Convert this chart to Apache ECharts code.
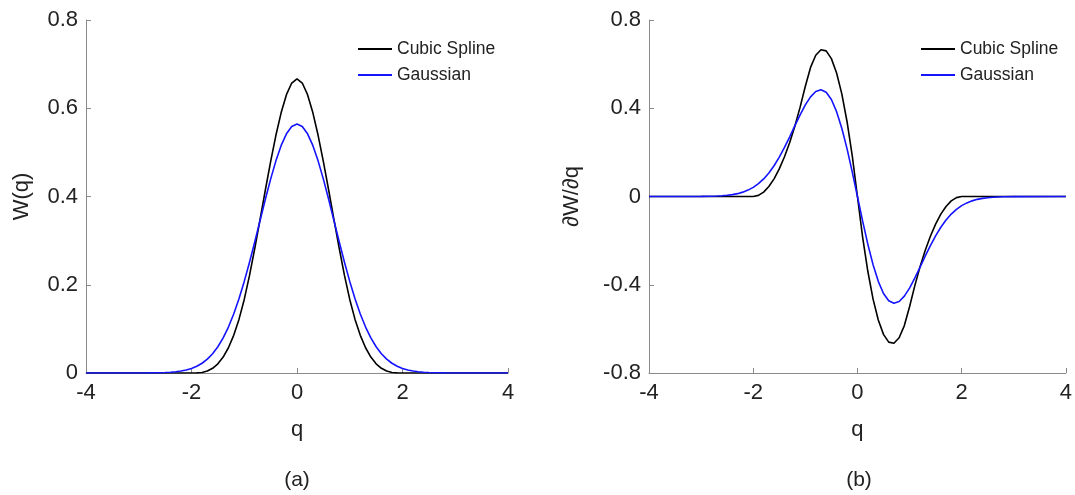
<!DOCTYPE html>
<html>
<head>
<meta charset="utf-8">
<script src="https://cdn.jsdelivr.net/npm/echarts@6/dist/echarts.min.js"></script>
<style>
html,body{margin:0;padding:0;background:#fff;}
#c{width:1075px;height:495px;}
</style>
</head>
<body>
<div id="c"></div>
<script>
// q sample points
var q = [-4,-3,-2.8,-2.7,-2.6,-2.5,-2.4,-2.3,-2.2,-2.1,-2.0,-1.9,-1.8,-1.7,-1.6,-1.5,-1.4,-1.3,-1.2,-1.1,-1.0,-0.9,-0.8,-0.7,-0.6,-0.5,-0.4,-0.3,-0.2,-0.1,0,
         0.1,0.2,0.3,0.4,0.5,0.6,0.7,0.8,0.9,1.0,1.1,1.2,1.3,1.4,1.5,1.6,1.7,1.8,1.9,2.0,2.1,2.2,2.3,2.4,2.5,2.6,2.7,2.8,3,4];

// W(q), cubic spline
var wCubic = [0,0,0,0,0,0,0,0,0,0,0,0.0002,0.0013,0.0045,0.0107,0.0208,0.036,0.0572,0.0853,0.1215,0.1667,0.2212,0.2827,0.3482,0.4147,0.4792,0.5387,0.5902,0.6307,0.6572,0.6667,
              0.6572,0.6307,0.5902,0.5387,0.4792,0.4147,0.3482,0.2827,0.2212,0.1667,0.1215,0.0853,0.0572,0.036,0.0208,0.0107,0.0045,0.0013,0.0002,0,0,0,0,0,0,0,0,0,0,0];
// W(q), Gaussian
var wGauss = [0,0.0001,0.0002,0.0004,0.0007,0.0011,0.0018,0.0028,0.0045,0.0069,0.0103,0.0153,0.0221,0.0314,0.0436,0.0595,0.0795,0.1041,0.1337,0.1682,0.2076,0.2510,0.2975,0.3457,0.3936,0.4394,0.4808,0.5157,0.5421,0.5586,0.5642,
              0.5586,0.5421,0.5157,0.4808,0.4394,0.3936,0.3457,0.2975,0.2510,0.2076,0.1682,0.1337,0.1041,0.0795,0.0595,0.0436,0.0314,0.0221,0.0153,0.0103,0.0069,0.0045,0.0028,0.0018,0.0011,0.0007,0.0004,0.0002,0.0001,0];
// dW/dq, cubic spline
var dCubic = [0,0,0,0,0,0,0,0,0,0,0,0.005,0.02,0.045,0.08,0.125,0.18,0.245,0.32,0.405,0.5,0.585,0.64,0.665,0.66,0.625,0.56,0.465,0.34,0.185,0,
              -0.185,-0.34,-0.465,-0.56,-0.625,-0.66,-0.665,-0.64,-0.585,-0.5,-0.405,-0.32,-0.245,-0.18,-0.125,-0.08,-0.045,-0.02,-0.005,0,0,0,0,0,0,0,0,0,0,0];
// dW/dq, Gaussian
var dGauss = [0,0.0004,0.0011,0.0022,0.0036,0.0055,0.0086,0.0129,0.0198,0.0290,0.0412,0.0581,0.0796,0.1068,0.1395,0.1785,0.2226,0.2707,0.3209,0.3700,0.4152,0.4518,0.4760,0.4840,0.4723,0.4394,0.3846,0.3094,0.2168,0.1117,0,
              -0.1117,-0.2168,-0.3094,-0.3846,-0.4394,-0.4723,-0.4840,-0.4760,-0.4518,-0.4152,-0.3700,-0.3209,-0.2707,-0.2226,-0.1785,-0.1395,-0.1068,-0.0796,-0.0581,-0.0412,-0.0290,-0.0198,-0.0129,-0.0086,-0.0055,-0.0036,-0.0022,-0.0011,-0.0004,0];

var xTicks = [-4,-2,0,2,4];
var yTicksA = [0,0.2,0.4,0.6,0.8];
var yTicksB = [-0.8,-0.4,0,0.4,0.8];

function pairs(xs, ys){ return xs.map(function(x,i){ return [x, ys[i]]; }); }

var FONT = '"Liberation Sans", Arial, sans-serif';
var axisCol = '#8a8a8a';
var txtCol = '#222';

function xAxisDef(idx){
  return {
    type:'value', gridIndex:idx, min:xTicks[0], max:xTicks[xTicks.length-1], interval:2,
    name:'q', nameLocation:'middle', nameGap:46,
    nameTextStyle:{fontSize:22, color:txtCol, fontFamily:FONT},
    axisLine:{show:true, onZero:false, lineStyle:{color:axisCol, width:1}},
    axisTick:{show:true, inside:true, length:5, lineStyle:{color:axisCol}},
    axisLabel:{fontSize:22, color:txtCol, fontFamily:FONT, margin:9,
      formatter:function(v){ return String(v); }},
    splitLine:{show:false}
  };
}
function yAxisDef(idx, ticks, interval, name, gap){
  return {
    type:'value', gridIndex:idx, min:ticks[0], max:ticks[ticks.length-1], interval:interval,
    name:name, nameLocation:'middle', nameGap:gap, nameRotate:90,
    nameTextStyle:{fontSize:22, color:txtCol, fontFamily:FONT},
    axisLine:{show:true, onZero:false, lineStyle:{color:axisCol, width:1}},
    axisTick:{show:true, inside:true, length:5, lineStyle:{color:axisCol}},
    axisLabel:{fontSize:22, color:txtCol, fontFamily:FONT, margin:8,
      formatter:function(v){ return String(Math.round(v*10)/10); }},
    splitLine:{show:false}
  };
}

var chart = echarts.init(document.getElementById('c'), null, {renderer:'canvas'});
chart.setOption({
  backgroundColor:'#fff',
  animation:false,
  grid:[
    {left:86, top:20, width:422, height:353},
    {left:649, top:20, width:421, height:353}
  ],
  xAxis:[xAxisDef(0), xAxisDef(1)],
  yAxis:[
    yAxisDef(0, yTicksA, 0.2, 'W(q)', 53),
    yAxisDef(1, yTicksB, 0.4, '\u2202W/\u2202q', 66)
  ],
  legend:[
    {left:353, top:35, orient:'vertical', itemGap:8, icon:'rect', itemWidth:34, itemHeight:2,
     textStyle:{fontSize:17.5, color:txtCol, fontFamily:FONT}, data:['Cubic Spline','Gaussian']},
    {left:916, top:35, orient:'vertical', itemGap:8, icon:'rect', itemWidth:34, itemHeight:2,
     textStyle:{fontSize:17.5, color:txtCol, fontFamily:FONT}, data:['Cubic Spline','Gaussian']}
  ],
  graphic:[
    {type:'text', x:297, y:480, style:{text:'(a)', fontSize:21, fill:txtCol, fontFamily:FONT, align:'center', verticalAlign:'middle'}},
    {type:'text', x:859, y:480, style:{text:'(b)', fontSize:21, fill:txtCol, fontFamily:FONT, align:'center', verticalAlign:'middle'}}
  ],
  series:[
    {name:'Cubic Spline', type:'line', xAxisIndex:0, yAxisIndex:0, data:pairs(q,wCubic), showSymbol:false, symbol:'none',
     lineStyle:{color:'#000', width:1.6}, itemStyle:{color:'#000'}},
    {name:'Gaussian', type:'line', xAxisIndex:0, yAxisIndex:0, data:pairs(q,wGauss), showSymbol:false, symbol:'none',
     lineStyle:{color:'#1414ff', width:1.6}, itemStyle:{color:'#1414ff'}},
    {name:'Cubic Spline', type:'line', xAxisIndex:1, yAxisIndex:1, data:pairs(q,dCubic), showSymbol:false, symbol:'none',
     lineStyle:{color:'#000', width:1.6}, itemStyle:{color:'#000'}},
    {name:'Gaussian', type:'line', xAxisIndex:1, yAxisIndex:1, data:pairs(q,dGauss), showSymbol:false, symbol:'none',
     lineStyle:{color:'#1414ff', width:1.6}, itemStyle:{color:'#1414ff'}}
  ]
});
</script>
</body>
</html>
